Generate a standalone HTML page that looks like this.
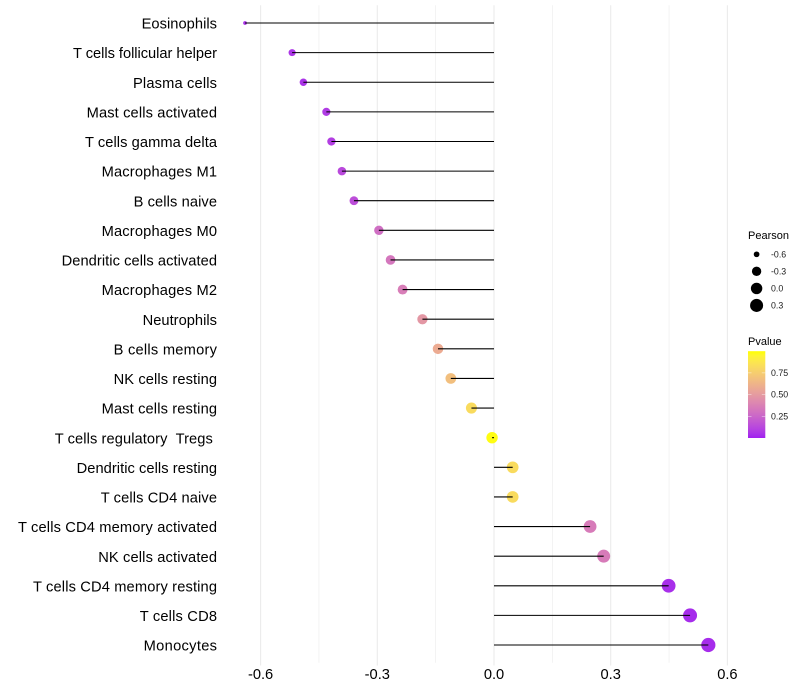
<!DOCTYPE html>
<html>
<head>
<meta charset="utf-8">
<style>
html,body{margin:0;padding:0;background:#fff;width:800px;height:700px;overflow:hidden}
svg{display:block}
text{font-family:"Liberation Sans",sans-serif;white-space:pre}
</style>
</head>
<body>
<svg id="chart" xmlns="http://www.w3.org/2000/svg" width="800" height="700" viewBox="0 0 800 700">
<defs><linearGradient id="pvalue-gradient" x1="0" y1="1" x2="0" y2="0"></linearGradient></defs>
<rect x="0" y="0" width="800" height="700" fill="#fff"/>
</svg>
<script>
const categories = ["Eosinophils","T cells follicular helper","Plasma cells","Mast cells activated","T cells gamma delta","Macrophages M1","B cells naive","Macrophages M0","Dendritic cells activated","Macrophages M2","Neutrophils","B cells memory","NK cells resting","Mast cells resting","T cells regulatory  Tregs ","Dendritic cells resting","T cells CD4 naive","T cells CD4 memory activated","NK cells activated","T cells CD4 memory resting","T cells CD8","Monocytes"];
const pearson = [-0.640,-0.519,-0.490,-0.431,-0.418,-0.391,-0.360,-0.296,-0.266,-0.235,-0.184,-0.144,-0.111,-0.058,-0.005,0.048,0.048,0.247,0.282,0.449,0.504,0.551];
const pvalue = [0.05,0.06,0.05,0.08,0.09,0.13,0.15,0.29,0.33,0.36,0.48,0.58,0.68,0.82,0.99,0.82,0.82,0.35,0.35,0.04,0.03,0.03];
const xTicks = [-0.6,-0.3,0.0,0.3,0.6];
const xMinorTicks = [-0.45,-0.15,0.15,0.45];
const sizeBreaks = [-0.6,-0.3,0.0,0.3];
const pvalueBreaks = [0.25,0.50,0.75];

const svg = document.getElementById('chart');
const NS = 'http://www.w3.org/2000/svg';
function mk(tag, attrs, parent){
  const el = document.createElementNS(NS, tag);
  for (const k in attrs) el.setAttribute(k, attrs[k]);
  (parent || svg).appendChild(el);
  return el;
}
const xScale = v => 494 + v * 389;
const yScale = i => 23 + i * 29.62;
const minV = Math.min(...pearson), maxV = Math.max(...pearson);
const rScale = v => 1.9 + 5.2 * Math.sqrt(Math.max(0, (v - minV) / (maxV - minV)));

// rendered label widths in the reference's hinted text
const labelFit = {"Eosinophils":75.4,"T cells follicular helper":144,"Plasma cells":84,"Mast cells activated":130.4,"T cells gamma delta":132,"Macrophages M1":115.4,"B cells naive":83.4,"Macrophages M0":115.4,"Dendritic cells activated":155.4,"Macrophages M2":115.4,"Neutrophils":74.4,"B cells memory":103.4,"NK cells resting":103.4,"Mast cells resting":115.4,"T cells regulatory  Tregs ":162.3,"Dendritic cells resting":140.4,"T cells CD4 naive":116.3,"T cells CD4 memory activated":199,"NK cells activated":118.8,"T cells CD4 memory resting":184,"T cells CD8":77.3,"Monocytes":73.4};

// Lab interpolation from purple to yellow, as ggplot's gradient does
function toLab(c){
  const l = c.map(u => { u /= 255; return u > 0.04045 ? Math.pow((u + 0.055) / 1.055, 2.4) : u / 12.92; });
  const X = (0.4124*l[0]+0.3576*l[1]+0.1805*l[2]) / 0.95047;
  const Y = 0.2126*l[0]+0.7152*l[1]+0.0722*l[2];
  const Z = (0.0193*l[0]+0.1192*l[1]+0.9505*l[2]) / 1.08883;
  const f = t => t > 0.008856 ? Math.cbrt(t) : 7.787*t + 16/116;
  return [116*f(Y)-16, 500*(f(X)-f(Y)), 200*(f(Y)-f(Z))];
}
function fromLab(L){
  const fy = (L[0]+16)/116, fx = fy + L[1]/500, fz = fy - L[2]/200;
  const g = t => t*t*t > 0.008856 ? t*t*t : (t-16/116)/7.787;
  const X = g(fx)*0.95047, Y = g(fy), Z = g(fz)*1.08883;
  const r = [3.2406*X-1.5372*Y-0.4986*Z, -0.9689*X+1.8758*Y+0.0415*Z, 0.0557*X-0.2040*Y+1.0570*Z];
  return 'rgb(' + r.map(u => {
    u = Math.max(0, Math.min(1, u));
    u = u > 0.0031308 ? 1.055*Math.pow(u, 1/2.4)-0.055 : 12.92*u;
    return Math.round(u*255);
  }).join(',') + ')';
}
const labLow = toLab([160,32,240]), labHigh = toLab([255,255,0]);
const colorScale = p => fromLab(labLow.map((a, i) => a + (labHigh[i] - a) * p));

// grid
xMinorTicks.forEach(t => {
  const el = mk('line', {x1:xScale(t), x2:xScale(t), y1:5.2, y2:662.8, stroke:'#ebebeb', 'stroke-width':0.6});
  
  
});
xTicks.forEach(t => {
  const el = mk('line', {x1:xScale(t), x2:xScale(t), y1:5.2, y2:665.5, stroke:'#ebebeb', 'stroke-width':1.07});
  
  
});

// points, then stems on top
categories.forEach((c, i) => {
  const dot = mk('circle', {cx:xScale(pearson[i]), cy:yScale(i), r:rScale(pearson[i]), fill:colorScale(pvalue[i])});
  
  
});
categories.forEach((c, i) => {
  const stem = mk('line', {x1:xScale(0), x2:xScale(pearson[i]), y1:yScale(i), y2:yScale(i), stroke:'#000', 'stroke-width':1.07});
  
  
});

// y labels
categories.forEach((c, i) => {
  const t = mk('text', {x:217, y:yScale(i)+5.6, 'text-anchor':'end', 'font-size':14.67, fill:'#000', textLength:labelFit[c], lengthAdjust:'spacing'});
  t.textContent = c;
  
  
});

// x labels
xTicks.forEach(v => {
  const t = mk('text', {x:xScale(v), y:679, 'text-anchor':'middle', 'font-size':14.67, fill:'#000'});
  t.textContent = v.toFixed(1);
  
  
});

// size legend
const sizeTitle = mk('text', {x:748, y:239, 'font-size':11, fill:'#000'});
sizeTitle.textContent = 'Pearson';


sizeBreaks.forEach((v, i) => {
  const cy = 254.3 + i * 17.05;
  const d = mk('circle', {cx:756.6, cy:cy, r:rScale(v), fill:'#000'});
  
  
  const t = mk('text', {x:771, y:cy+3.1, 'font-size':8.8, fill:'#1a1a1a'});
  t.textContent = v.toFixed(1);
  
  
});

// colour legend
const colorTitle = mk('text', {x:748, y:345, 'font-size':11, fill:'#000'});
colorTitle.textContent = 'Pvalue';


const grad = document.getElementById('pvalue-gradient');
for (let s = 0; s <= 20; s++) {
  mk('stop', {offset:(s/20), 'stop-color':colorScale(s/20)}, grad);
}
const barY = p => 438 - p * 86.8;
const bar = mk('rect', {x:748, y:barY(1), width:17.3, height:86.8, fill:'url(#pvalue-gradient)'});


pvalueBreaks.forEach(p => {
  const y = barY(p);
  const a = mk('line', {x1:748, x2:751.5, y1:y, y2:y, stroke:'#fff', 'stroke-width':0.4});
  
  
  const b = mk('line', {x1:761.8, x2:765.3, y1:y, y2:y, stroke:'#fff', 'stroke-width':0.4});
  
  
  const t = mk('text', {x:771, y:y+3.1, 'font-size':8.8, fill:'#1a1a1a'});
  t.textContent = p.toFixed(2);
  
  
});
</script>
</body>
</html>
